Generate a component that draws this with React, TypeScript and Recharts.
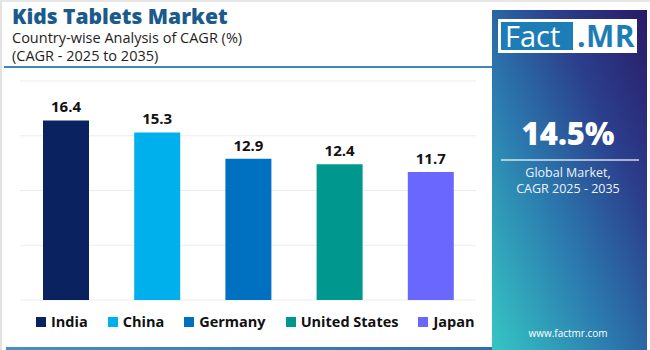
import React from "react";
import { BarChart, Bar, Cell, XAxis, YAxis, CartesianGrid, LabelList, Legend } from "recharts";

const countries = ["India", "China", "Germany", "United States", "Japan"];
const cagrValues = [16.4, 15.3, 12.9, 12.4, 11.7];
const barColors = ["#0b2260", "#00b0ec", "#0070c0", "#00978f", "#6a67fe"];
const yTicks = [0, 5, 10, 15, 20];

const chartData = countries.map((name, i) => ({ name, value: cagrValues[i] }));

const FONT = "'Open Sans', 'DejaVu Sans', sans-serif";

const LegendRow = () => (
  <div
    style={{
      position: "absolute",
      left: 36,
      top: 14,
      display: "flex",
      alignItems: "center",
      whiteSpace: "nowrap",
      fontFamily: FONT,
      fontWeight: 700,
      fontSize: 14.5,
      lineHeight: "16px",
      color: "#111"
    }}
  >
    {countries.map((c, i) => (
      <div key={c} style={{ display: "flex", alignItems: "center", marginRight: 20 }}>
        <span style={{ width: 10, height: 10, background: barColors[i], marginRight: 5, display: "inline-block" }} />
        <span>{c}</span>
      </div>
    ))}
  </div>
);

export default function App() {
  return (
    <div
      style={{
        position: "absolute",
        left: 0,
        top: 0,
        width: 650,
        height: 350,
        background: "#ffffff",
        overflow: "hidden",
        fontFamily: FONT
      }}
    >
      {/* frame lines */}
      <div style={{ position: "absolute", left: 0, top: 0, width: 2, height: 350, background: "#e2e2e2" }} />
      <div style={{ position: "absolute", left: 0, top: 0, width: 650, height: 2, background: "#e6e6e6" }} />
      <div style={{ position: "absolute", left: 4, top: 66, width: 490, height: 2, background: "#3f86ba" }} />
      <div
        style={{
          position: "absolute",
          left: 6,
          top: 347,
          width: 488,
          height: 3,
          background: "linear-gradient(to right, #4a8fc0, #2f6ea6)"
        }}
      />

      {/* titles */}
      <div style={{ position: "absolute", left: 12, top: 3, fontSize: 21, lineHeight: "26px", fontWeight: 800, color: "#1a5b8c", whiteSpace: "nowrap" }}>
        Kids Tablets Market
      </div>
      <div style={{ position: "absolute", left: 12, top: 29, fontSize: 14.5, lineHeight: "18px", color: "#1e1e1e", whiteSpace: "nowrap" }}>
        Country-wise Analysis of CAGR (%)
      </div>
      <div style={{ position: "absolute", left: 12, top: 47, fontSize: 14.5, lineHeight: "18px", color: "#1e1e1e", whiteSpace: "nowrap" }}>
        (CAGR - 2025 to 2035)
      </div>

      {/* chart */}
      <div style={{ position: "absolute", left: 0, top: 70 }}>
        <BarChart width={490} height={280} data={chartData} margin={{ top: 11, right: 14, left: 20, bottom: 0 }}>
          <CartesianGrid vertical={false} stroke="#ececec" />
          <XAxis dataKey="name" hide />
          <YAxis hide domain={[0, 20]} ticks={yTicks} />
          <Legend
            verticalAlign="bottom"
            height={50}
            wrapperStyle={{ left: 0, width: 490 }}
            content={() => <LegendRow />}
          />
          <Bar dataKey="value" barSize={46} isAnimationActive={false}>
            {chartData.map((d, i) => (
              <Cell key={d.name} fill={barColors[i]} />
            ))}
            <LabelList
              dataKey="value"
              position="top"
              offset={8}
              style={{ fontFamily: FONT, fontWeight: 700, fontSize: 15, fill: "#111" }}
            />
          </Bar>
        </BarChart>
      </div>

      {/* side panel */}
      <div
        style={{
          position: "absolute",
          left: 492,
          top: 10,
          width: 155,
          height: 340,
          background: "linear-gradient(to top right, #35c6c4 0%, #2b79ae 40%, #2b3f8c 70%, #2a1a66 100%)",
          color: "#ffffff",
          textAlign: "center"
        }}
      >
        <div
          style={{
            position: "absolute",
            left: 6,
            top: 9,
            width: 139,
            height: 34,
            background: "#ffffff",
            display: "flex",
            alignItems: "center"
          }}
        >
          <div
            style={{
              marginLeft: 3,
              width: 72,
              height: 28,
              background: "#1d7db6",
              color: "#fff",
              fontSize: 29,
              lineHeight: "28px",
              textAlign: "left",
              paddingLeft: 4,
              boxSizing: "border-box"
            }}
          >
            Fact
          </div>
          <div style={{ marginLeft: 4, color: "#1d7db6", fontSize: 30, fontWeight: 700, lineHeight: "28px", letterSpacing: 0.5 }}>.MR</div>
        </div>
        <div style={{ position: "absolute", left: 0, width: 152, top: 103, fontSize: 31, lineHeight: "40px", fontWeight: 800 }}>14.5%</div>
        <div style={{ position: "absolute", left: 9, top: 149, width: 138, height: 2, background: "rgba(255,255,255,0.6)" }} />
        <div style={{ position: "absolute", left: 0, width: 152, top: 155, fontSize: 12.5, lineHeight: "16px", color: "#eef3f8" }}>
          Global Market,
          <br />
          CAGR 2025 - 2035
        </div>
        <div style={{ position: "absolute", left: 0, width: 152, top: 316, fontSize: 10, color: "#ffffff" }}>www.factmr.com</div>
      </div>
    </div>
  );
}
